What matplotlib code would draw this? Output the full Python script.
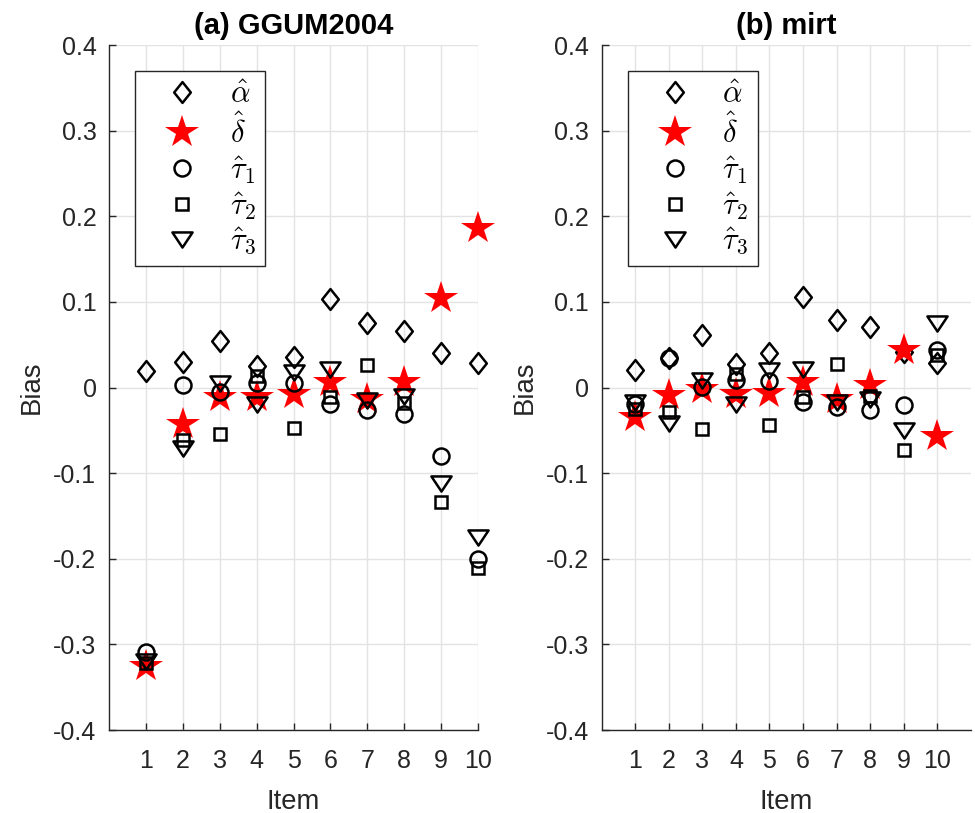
import numpy as np
import matplotlib
matplotlib.use("Agg")
from matplotlib import pyplot as plt
from matplotlib.path import Path

plt.rcParams["font.family"] = ["Liberation Sans", "DejaVu Sans"]
plt.rcParams["mathtext.fontset"] = "cm"

items = np.arange(1, 11)

# (a) GGUM2004
ggum_alpha = [0.019, 0.030, 0.054, 0.025, 0.036, 0.103, 0.075, 0.066, 0.040, 0.029]
ggum_delta = [-0.325, -0.043, -0.011, -0.011, -0.008, 0.007, -0.013, 0.007, 0.105, 0.186]
ggum_tau1 = [-0.309, 0.003, -0.005, 0.005, 0.005, -0.019, -0.026, -0.031, -0.080, -0.200]
ggum_tau2 = [-0.322, -0.061, -0.054, 0.013, -0.047, -0.011, 0.026, -0.018, -0.134, -0.211]
ggum_tau3 = [-0.319, -0.071, 0.005, -0.019, 0.018, 0.022, -0.015, -0.010, -0.111, -0.175]

# (b) mirt
mirt_alpha = [0.020, 0.034, 0.061, 0.027, 0.040, 0.106, 0.079, 0.071, 0.042, 0.029]
mirt_delta = [-0.034, -0.009, -0.002, -0.008, -0.007, 0.007, -0.013, 0.003, 0.044, -0.057]
mirt_tau1 = [-0.019, 0.035, 0.001, 0.009, 0.008, -0.017, -0.023, -0.026, -0.020, 0.044]
mirt_tau2 = [-0.025, -0.029, -0.048, 0.016, -0.044, -0.011, 0.027, -0.010, -0.073, 0.038]
mirt_tau3 = [-0.017, -0.041, 0.009, -0.019, 0.020, 0.022, -0.017, -0.013, -0.050, 0.075]

labels = [r"$\hat{\alpha}$", r"$\hat{\delta}$", r"$\hat{\tau}_1$", r"$\hat{\tau}_2$", r"$\hat{\tau}_3$"]
titles = ["(a) GGUM2004", "(b) mirt"]

# matlab-ish marker shapes
diamond = Path([(0, 1), (0.8, 0), (0, -1), (-0.8, 0), (0, 1)],
               [Path.MOVETO, Path.LINETO, Path.LINETO, Path.LINETO, Path.CLOSEPOLY])
tri_down = Path([(-1, 0.7), (1, 0.7), (0, -0.8), (-1, 0.7)],
                [Path.MOVETO, Path.LINETO, Path.LINETO, Path.CLOSEPOLY])

lw = 1.8
styles = [
    dict(marker=diamond, ms=15, mfc="none", mec="black", mew=lw),
    dict(marker="*", ms=25, mfc="red", mec="none", mew=0),
    dict(marker="o", ms=11.5, mfc="none", mec="black", mew=lw),
    dict(marker="s", ms=8.4, mfc="none", mec="black", mew=lw),
    dict(marker=tri_down, ms=14.5, mfc="none", mec="black", mew=lw),
]

fig = plt.figure(figsize=(9.75, 8.13), dpi=100)
axes_pos = [[109 / 975, 83 / 813, 369 / 975, 685 / 813],
            [601.7 / 975, 83 / 813, 369 / 975, 685 / 813]]
xmax = [10, 11]
panels = [[ggum_alpha, ggum_delta, ggum_tau1, ggum_tau2, ggum_tau3],
          [mirt_alpha, mirt_delta, mirt_tau1, mirt_tau2, mirt_tau3]]

gray = "#262626"
for k in range(2):
    ax = fig.add_axes(axes_pos[k])
    for series, lab, st in zip(panels[k], labels, styles):
        ax.plot(items, series, linestyle="none", label=lab, clip_on=False, **st)
    ax.set_xlim(0, xmax[k])
    ax.set_ylim(-0.4, 0.4)
    ax.set_xticks(items)
    ax.set_yticks(np.arange(-0.4, 0.41, 0.1))
    ax.set_yticklabels(["-0.4", "-0.3", "-0.2", "-0.1", "0", "0.1", "0.2", "0.3", "0.4"])
    ax.grid(True, color="#e3e3e3", linewidth=1.0)
    ax.set_axisbelow(True)
    for s in ["top", "right"]:
        ax.spines[s].set_visible(False)
    for s in ["left", "bottom"]:
        ax.spines[s].set_color(gray)
        ax.spines[s].set_linewidth(1.0)
    ax.tick_params(direction="in", length=5, width=1.0, color=gray,
                   labelcolor=gray, labelsize=18)
    ax.tick_params(axis="x", pad=14)
    ax.tick_params(axis="y", pad=9)
    ax.set_xlabel("Item", fontsize=19.8, color=gray, labelpad=11)
    ax.set_ylabel("Bias", fontsize=19.8, color=gray, labelpad=6)
    ax.set_title(titles[k], fontsize=21, fontweight="bold", pad=8)
    leg = ax.legend(loc="upper left", bbox_to_anchor=(26 / 369, 659 / 685),
                    borderaxespad=0, fontsize=22, frameon=True, fancybox=False,
                    handlelength=2.5, handletextpad=0.3, borderpad=0.3,
                    labelspacing=0.13, numpoints=1)
    leg.get_frame().set_edgecolor(gray)
    leg.get_frame().set_linewidth(1.0)
    leg.get_frame().set_alpha(1)

fig.savefig("out.png", dpi=100)
